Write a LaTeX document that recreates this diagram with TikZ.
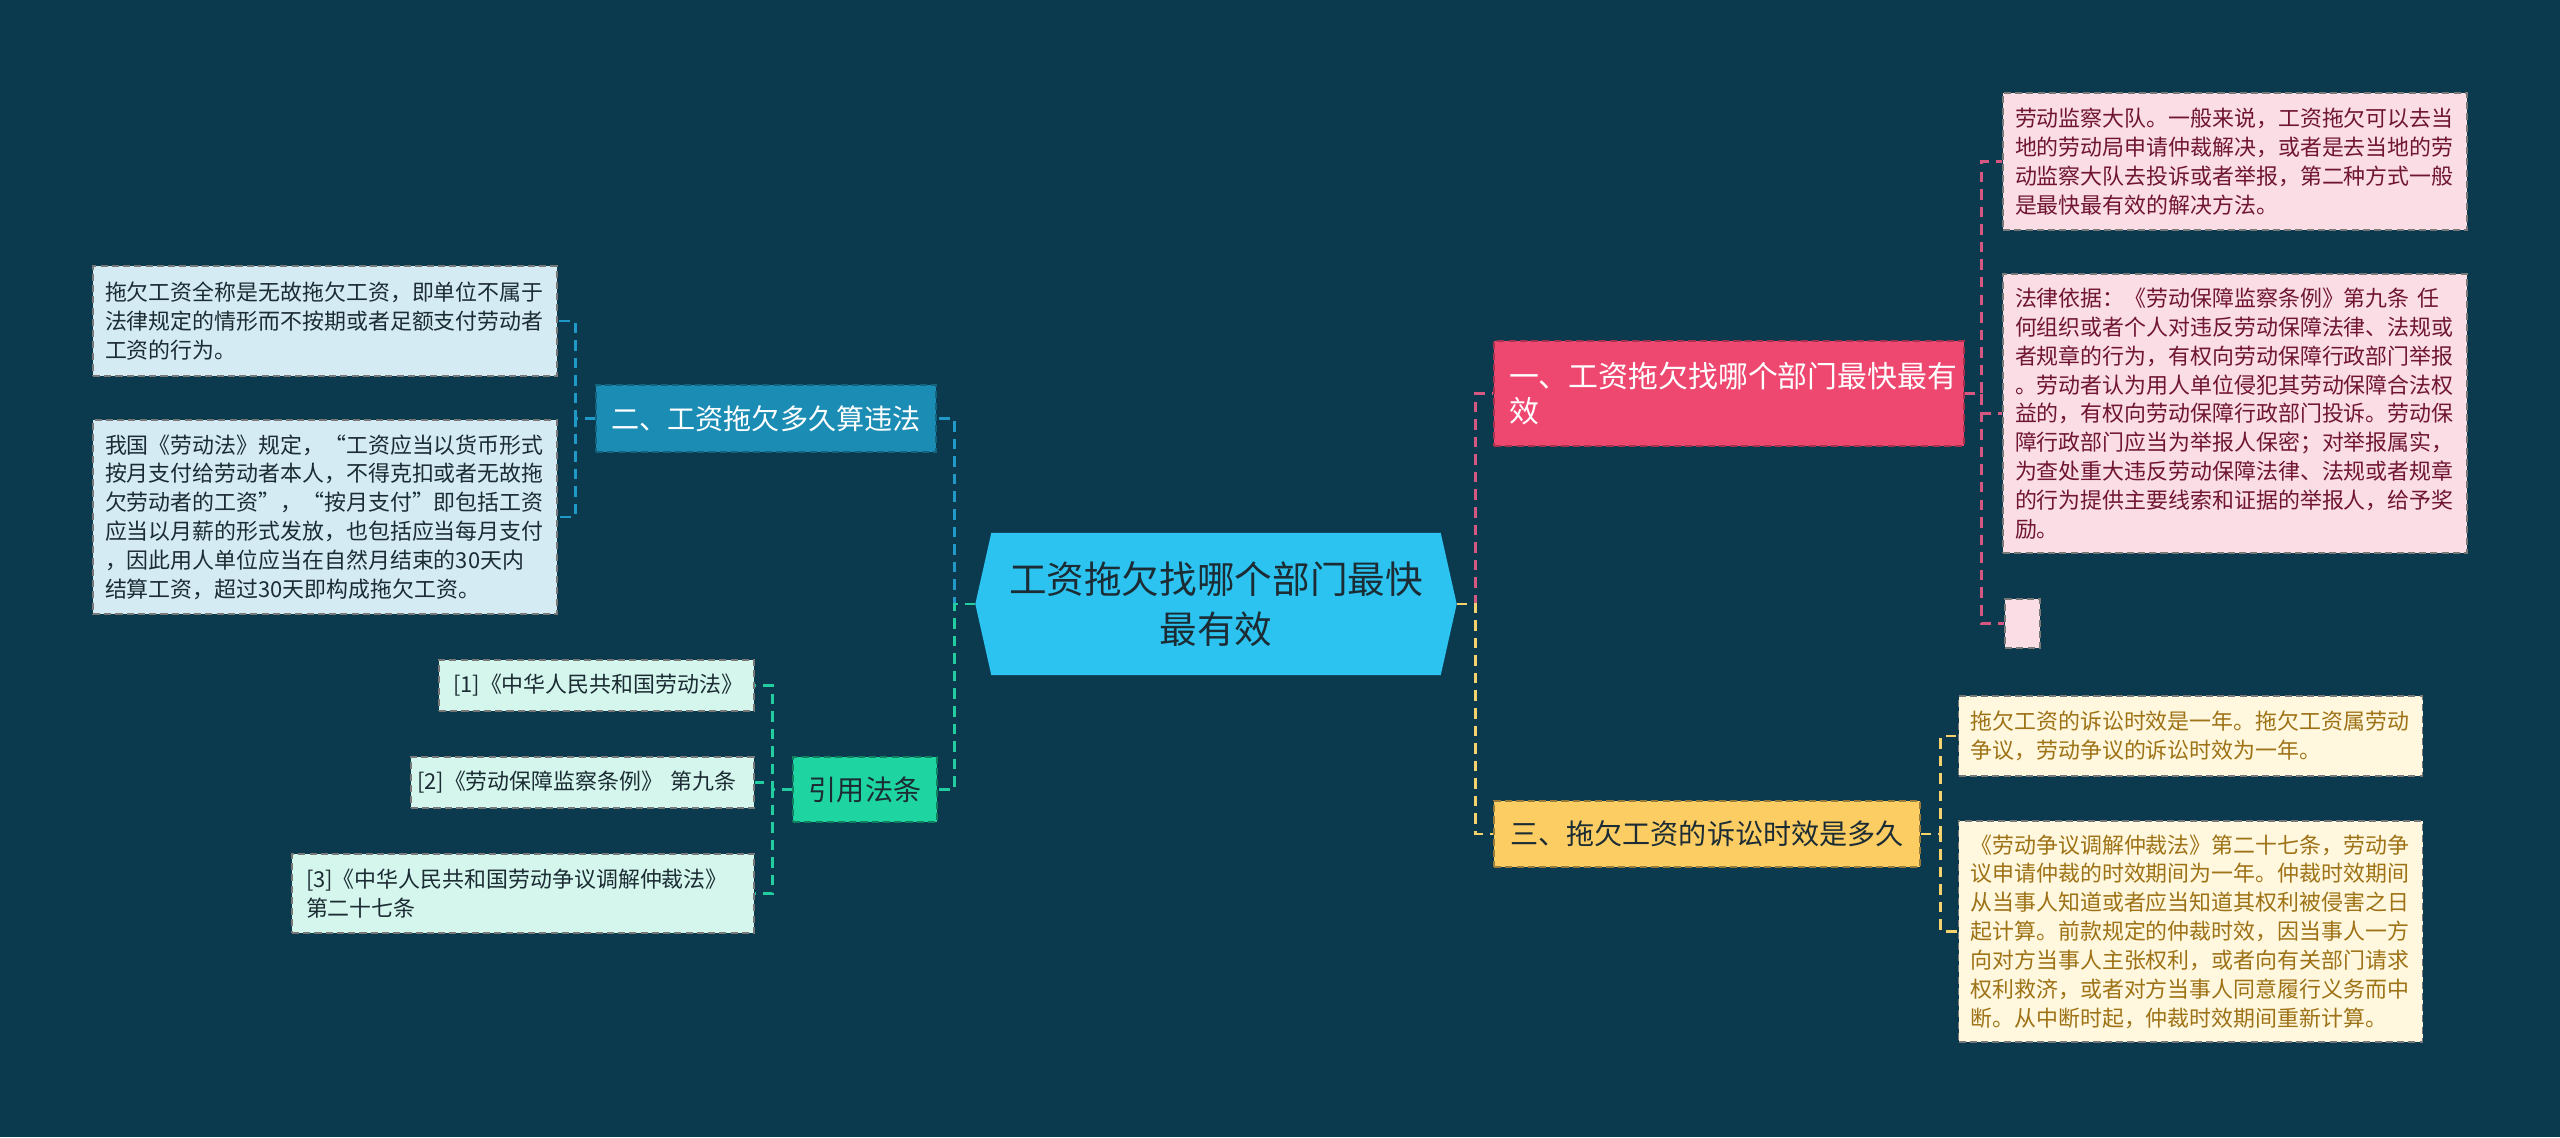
\documentclass[tikz,border=0pt]{standalone}
\usepackage{fontspec}
\setmainfont{Noto Sans CJK SC}
\usetikzlibrary{positioning,calc,backgrounds}
\definecolor{PageBg}{RGB}{11,58,78}
\definecolor{HubBlue}{RGB}{44,195,240}
\definecolor{DarkText}{RGB}{28,44,52}
\definecolor{PinkMain}{RGB}{239,72,112}
\definecolor{PinkLeaf}{RGB}{250,221,229}
\definecolor{PinkLeafText}{RGB}{112,22,50}
\definecolor{PinkLine}{RGB}{214,88,128}
\definecolor{YellowMain}{RGB}{252,205,98}
\definecolor{YellowLeaf}{RGB}{255,248,222}
\definecolor{YellowLeafText}{RGB}{158,114,22}
\definecolor{YellowLine}{RGB}{246,210,108}
\definecolor{BlueMain}{RGB}{27,141,180}
\definecolor{BlueLeaf}{RGB}{212,235,243}
\definecolor{BlueLine}{RGB}{32,152,200}
\definecolor{GreenMain}{RGB}{30,212,160}
\definecolor{GreenLeaf}{RGB}{212,246,236}
\definecolor{GreenLine}{RGB}{34,206,160}
\definecolor{LeafEdge}{RGB}{120,120,120}
\tikzset{
  topic/.style={text=DarkText,font=\fontsize{10.7}{14.2}\selectfont,
    text width=4.4cm,align=center,inner xsep=0.2cm,inner ysep=0pt,minimum height=1.41cm},
  branch/.style={dash pattern=on 2pt off 1.2pt,line width=0.5pt,inner xsep=0.15cm,
    inner ysep=0pt,font=\fontsize{8}{10}\selectfont,align=center},
  pinkbranch/.style={branch,draw=PinkMain!70!black,fill=PinkMain,text=white,
    font=\fontsize{8.5}{10.2}\selectfont,text width=4.4cm,align=left,minimum height=1.05cm},
  yellowbranch/.style={branch,draw=YellowMain!60!black,fill=YellowMain,text=DarkText,
    minimum width=4.26cm,minimum height=0.66cm},
  bluebranch/.style={branch,draw=BlueMain!70!black,fill=BlueMain,text=white,
    minimum width=3.40cm,minimum height=0.67cm},
  greenbranch/.style={branch,draw=GreenMain!60!black,fill=GreenMain,text=DarkText,
    minimum width=1.44cm,minimum height=0.65cm},
  leaf/.style={dash pattern=on 2pt off 1.2pt,line width=0.5pt,draw=LeafEdge,
    inner xsep=0.12cm,inner ysep=0pt,font=\fontsize{6.24}{8.2}\selectfont,
    align=left,text width=4.4cm},
  pinkleaf/.style={leaf,fill=PinkLeaf,text=PinkLeafText},
  yellowleaf/.style={leaf,fill=YellowLeaf,text=YellowLeafText},
  blueleaf/.style={leaf,fill=BlueLeaf,text=DarkText},
  greenleaf/.style={leaf,fill=GreenLeaf,text=DarkText,inner xsep=0.14cm},
  emptyleaf/.style={dash pattern=on 2pt off 1.2pt,line width=0.5pt,draw=LeafEdge,
    fill=PinkLeaf,inner sep=0pt,minimum width=0.35cm,minimum height=0.49cm},
  link/.style={line width=0.8pt,dash pattern=on 3pt off 2pt},
  pinkline/.style={link,draw=PinkLine},
  yellowline/.style={link,draw=YellowLine},
  blueline/.style={link,draw=BlueLine},
  greenline/.style={link,draw=GreenLine}
}

\begin{document}
\begin{tikzpicture}
  \useasboundingbox (0,0) rectangle (25.6,-11.37);
  \begin{scope}[on background layer]
    \fill[PageBg] (0,0) rectangle (25.6,-11.37);
  \end{scope}

  % centre topic
  \node[topic] (hub) at (12.16,-6.04) {工资拖欠找哪个部门最快\\最有效};
  \begin{scope}[on background layer]
    \fill[HubBlue] (hub.west) -- ([xshift=1.6mm]hub.north west) -- ([xshift=-1.6mm]hub.north east)
      -- (hub.east) -- ([xshift=-1.6mm]hub.south east) -- ([xshift=1.6mm]hub.south west) -- cycle;
  \end{scope}

  % branches
  \node[pinkbranch] (b1) at (17.29,-3.935) {一、工资拖欠找哪个部门最快最有\\效};
  \node[yellowbranch] (b3) at (17.07,-8.34) {三、拖欠工资的诉讼时效是多久};
  \node[bluebranch] (b2) at (7.66,-4.185) {二、工资拖欠多久算违法};
  \node[greenbranch] (b4) at (8.65,-7.895) {引用法条};

  % right leaves
  \node[pinkleaf,minimum height=1.37cm] (p1) at (22.35,-1.615)
    {劳动监察大队。一般来说，工资拖欠可以去当\\地的劳动局申请仲裁解决，或者是去当地的劳\\动监察大队去投诉或者举报，第二种方式一般\\是最快最有效的解决方法。};
  \node[pinkleaf,minimum height=2.79cm] (p2) at (22.35,-4.135)
    {法律依据：《劳动保障监察条例》第九条 任\\何组织或者个人对违反劳动保障法律、法规或\\者规章的行为，有权向劳动保障行政部门举报\\。劳动者认为用人单位侵犯其劳动保障合法权\\益的，有权向劳动保障行政部门投诉。劳动保\\障行政部门应当为举报人保密；对举报属实，\\为查处重大违反劳动保障法律、法规或者规章\\的行为提供主要线索和证据的举报人，给予奖\\励。};
  \node[emptyleaf] (p3) at (20.225,-6.235) {};
  \node[yellowleaf,minimum height=0.80cm] (y1) at (21.905,-7.36)
    {拖欠工资的诉讼时效是一年。拖欠工资属劳动\\争议，劳动争议的诉讼时效为一年。};
  \node[yellowleaf,minimum height=2.21cm] (y2) at (21.905,-9.315)
    {《劳动争议调解仲裁法》第二十七条，劳动争\\议申请仲裁的时效期间为一年。仲裁时效期间\\从当事人知道或者应当知道其权利被侵害之日\\起计算。前款规定的仲裁时效，因当事人一方\\向对方当事人主张权利，或者向有关部门请求\\权利救济，或者对方当事人同意履行义务而中\\断。从中断时起，仲裁时效期间重新计算。};

  % left leaves
  \node[blueleaf,minimum height=1.10cm] (l1) at (3.25,-3.21)
    {拖欠工资全称是无故拖欠工资，即单位不属于\\法律规定的情形而不按期或者足额支付劳动者\\工资的行为。};
  \node[blueleaf,minimum height=1.94cm] (l2) at (3.25,-5.17)
    {我国《劳动法》规定，“工资应当以货币形式\\按月支付给劳动者本人，不得克扣或者无故拖\\欠劳动者的工资”，“按月支付”即包括工资\\应当以月薪的形式发放，也包括应当每月支付\\，因此用人单位应当在自然月结束的30天内\\结算工资，超过30天即构成拖欠工资。};
  \node[greenleaf,text width=2.87cm,minimum height=0.51cm] (r1) at (5.965,-6.855)
    {[1]《中华人民共和国劳动法》};
  \node[greenleaf,text width=3.31cm,inner xsep=0.06cm,minimum height=0.51cm] (r2) at (5.825,-7.825)
    {\mbox{[2]《劳动保障监察条例》 第九条}};
  \node[greenleaf,text width=4.34cm,minimum height=0.79cm] (r3) at (5.23,-8.935)
    {[3]《中华人民共和国劳动争议调解仲裁法》\\第二十七条};

  % connectors
  \draw[pinkline] (hub.east) -- ++(0.19,0) |- (b1.west);
  \draw[yellowline] (hub.east) -- ++(0.19,0) |- (b3.west);
  \draw[blueline] (hub.west) -- ++(-0.21,0) |- (b2.east);
  \draw[greenline] (hub.west) -- ++(-0.21,0) |- (b4.east);
  \foreach \n in {p1,p2,p3}
    \draw[pinkline] (b1.east) -- ++(0.17,0) |- (\n.west);
  \foreach \n in {y1,y2}
    \draw[yellowline] (b3.east) -- ++(0.2,0) |- (\n.west);
  \foreach \n in {l1,l2}
    \draw[blueline] (b2.west) -- ++(-0.2,0) |- (\n.east);
  \foreach \n in {r1,r2,r3}
    \draw[greenline] (b4.west) -- ++(-0.2,0) |- (\n.east);
\end{tikzpicture}
\end{document}
